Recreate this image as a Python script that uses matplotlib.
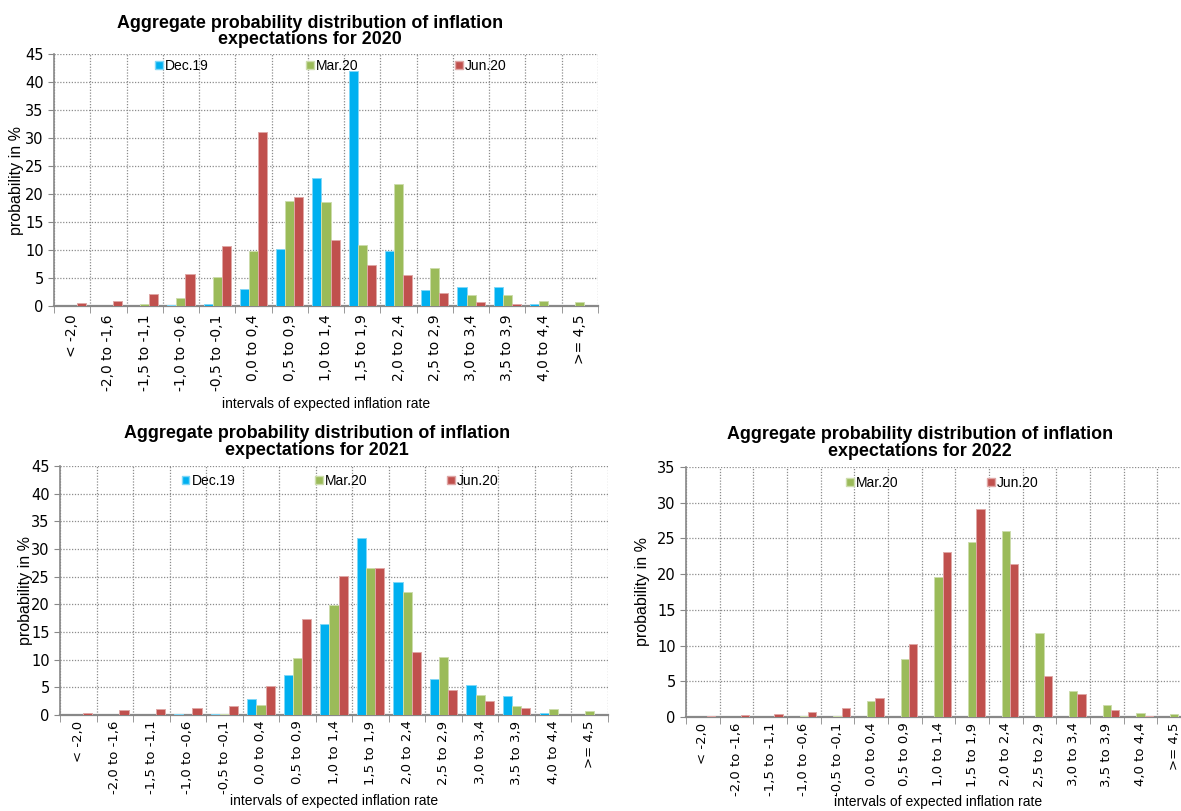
import numpy as np
import matplotlib
matplotlib.use('Agg')
import matplotlib.pyplot as plt
from matplotlib.patches import Patch

# intervalos de inflacao esperada
categories = ['< -2,0', '-2,0 to -1,6', '-1,5 to -1,1', '-1,0 to -0,6', '-0,5 to -0,1',
              '0,0 to 0,4', '0,5 to 0,9', '1,0 to 1,4', '1,5 to 1,9', '2,0 to 2,4',
              '2,5 to 2,9', '3,0 to 3,4', '3,5 to 3,9', '4,0 to 4,4', '>= 4,5']

# 2020
dec19_2020 = [0, 0, 0, 0.25, 0.4, 3.0, 10.2, 22.8, 41.9, 9.9, 2.85, 3.45, 3.45, 0.4, 0]
mar20_2020 = [0, 0, 0.3, 1.4, 5.1, 9.8, 18.7, 18.5, 10.9, 21.8, 6.8, 1.95, 1.95, 0.85, 0.65]
jun20_2020 = [0.6, 0.85, 2.1, 5.8, 10.7, 31.0, 19.4, 11.7, 7.4, 5.6, 2.4, 0.8, 0.4, 0, 0]

# 2021
dec19_2021 = [0, 0, 0, 0.25, 0.25, 2.95, 7.3, 16.5, 32.0, 23.95, 6.55, 5.35, 3.5, 0.4, 0]
mar20_2021 = [0, 0, 0, 0, 0.25, 1.85, 10.35, 19.9, 26.6, 22.2, 10.5, 3.6, 1.6, 1.1, 0.8]
jun20_2021 = [0.4, 0.95, 1.1, 1.2, 1.6, 5.3, 17.3, 25.15, 26.5, 11.4, 4.6, 2.5, 1.3, 0, 0]

# 2022 (sem Dec.19)
mar20_2022 = [0, 0, 0, 0.2, 0.2, 2.25, 8.1, 19.6, 24.5, 26.0, 11.8, 3.6, 1.75, 0.6, 0.45]
jun20_2022 = [0.2, 0.3, 0.4, 0.7, 1.2, 2.6, 10.2, 23.1, 29.15, 21.4, 5.8, 3.2, 1.0, 0.2, 0]

colors = {'Dec.19': '#00B0F0', 'Mar.20': '#9BBB59', 'Jun.20': '#C0504D'}
edges = {'Dec.19': '#7FD7F7', 'Mar.20': '#CDDDAC', 'Jun.20': '#DFA7A6'}
offsets = {'Dec.19': -0.25, 'Mar.20': 0.0, 'Jun.20': 0.25}

text_font = 'Liberation Sans'
tick_font = 'DejaVu Sans'


def draw_panel(ax, series, ymax, ylabel_x, leg_x, leg_y, colspace, xpad, catsize, catpad):
    x = np.arange(len(categories))
    handles = []
    for name, vals in series.items():
        ax.bar(x + offsets[name], vals, width=0.25, color=colors[name],
               edgecolor=edges[name], linewidth=0.7, zorder=3)
        handles.append(Patch(facecolor=colors[name], edgecolor=edges[name], label=name))

    ax.set_xlim(-0.5, len(categories) - 0.5)
    ax.set_ylim(0, ymax)
    ax.set_yticks(np.arange(0, ymax + 1, 5))

    # rotulos no centro, marcas nas fronteiras
    ax.set_xticks(x)
    ax.set_xticklabels(categories, rotation=90, fontsize=catsize, family=tick_font)
    ax.set_xticks(np.arange(-0.5, len(categories)), minor=True)
    ax.tick_params(axis='x', which='major', length=0, pad=catpad)
    ax.tick_params(axis='x', which='minor', length=5, color='#888888', direction='out')
    ax.tick_params(axis='y', length=4, color='#888888', direction='out', labelsize=10.5)
    for lab in ax.get_yticklabels():
        lab.set_family(tick_font)

    ax.grid(True, axis='y', which='major', linestyle=(0, (1, 1.3)), color='#8c8c8c', linewidth=0.9, zorder=0)
    ax.grid(True, axis='x', which='minor', linestyle=(0, (1, 1.3)), color='#8c8c8c', linewidth=0.9, zorder=0)
    ax.grid(False, axis='x', which='major')

    ax.spines['top'].set_visible(False)
    ax.spines['right'].set_visible(False)
    ax.spines['left'].set_color('#888888')
    ax.spines['bottom'].set_color('#888888')
    ax.spines['left'].set_linewidth(1.2)
    ax.spines['bottom'].set_linewidth(1.6)

    ax.set_ylabel('probability in %', fontsize=11.5, family=text_font)
    ax.yaxis.set_label_coords(ylabel_x, 0.5)
    ax.set_xlabel('intervals of expected inflation rate', fontsize=10, family=text_font, labelpad=xpad)

    ax.legend(handles=handles, ncol=len(handles), loc='upper left', bbox_to_anchor=(leg_x, leg_y),
              frameon=False, prop={'family': text_font, 'size': 10}, handlelength=0.55,
              handleheight=0.55, handletextpad=0.15, columnspacing=colspace, borderpad=0,
              borderaxespad=0)


fig = plt.figure(figsize=(11.81, 8.11), dpi=100)
W, H = 1181, 811

ax1 = fig.add_axes([54 / W, 1 - 306 / H, 544 / W, 252 / H])
ax2 = fig.add_axes([60 / W, 1 - 715 / H, 548 / W, 249 / H])
ax3 = fig.add_axes([686 / W, 1 - 717 / H, 505 / W, 250 / H])

draw_panel(ax1, {'Dec.19': dec19_2020, 'Mar.20': mar20_2020, 'Jun.20': jun20_2020},
           45, -0.055, 0.186, 0.98, 7.0, 4, 10, 6)
draw_panel(ax2, {'Dec.19': dec19_2021, 'Mar.20': mar20_2021, 'Jun.20': jun20_2021},
           45, -0.05, 0.222, 0.968, 5.75, 0, 9.5, 4)
draw_panel(ax3, {'Mar.20': mar20_2022, 'Jun.20': jun20_2022},
           35, -0.071, 0.317, 0.964, 6.4, -1, 9.5, 4)

# titulos
title_kw = dict(ha='center', va='center', fontsize=12.9, fontweight='bold', family=text_font, linespacing=1.0)
fig.text(310 / W, 1 - 31.5 / H, 'Aggregate probability distribution of inflation\nexpectations for 2020', **title_kw)
fig.text(317 / W, 1 - 441.5 / H, 'Aggregate probability distribution of inflation\nexpectations for 2021', **title_kw)
fig.text(920 / W, 1 - 443 / H, 'Aggregate probability distribution of inflation\nexpectations for 2022', **title_kw)

plt.savefig('out.png', dpi=100)
